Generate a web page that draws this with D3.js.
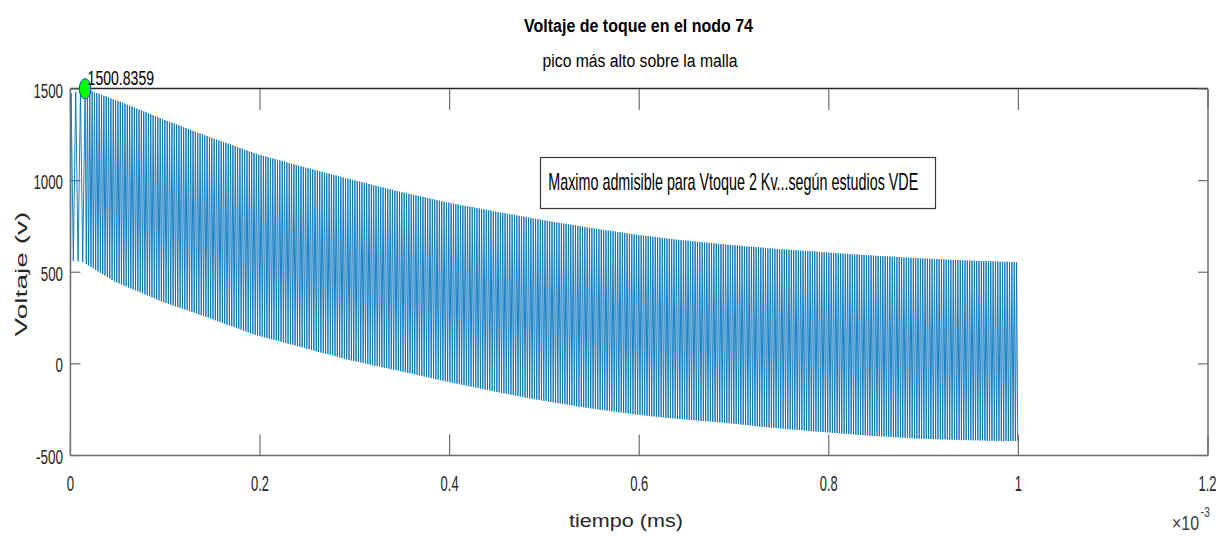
<!DOCTYPE html>
<html>
<head>
<meta charset="utf-8">
<script src="https://cdn.jsdelivr.net/npm/d3@7"></script>
<style>
  body { margin: 0; background: #fff; }
  svg { display: block; }
  text { font-family: "Liberation Sans", Arial, Helvetica, sans-serif; }
</style>
</head>
<body>
<svg id="chart" width="1221" height="538"></svg>
<script>
// ---- axis ticks (time in seconds, voltage in volts) ----
const xTicks = [0, 0.2e-3, 0.4e-3, 0.6e-3, 0.8e-3, 1.0e-3, 1.2e-3];
const xTickLabels = ["0", "0.2", "0.4", "0.6", "0.8", "1", "1.2"];
const yTicks = [-500, 0, 500, 1000, 1500];
const yTickLabels = ["-500", "0", "500", "1000", "1500"];

// ---- onset of the transient (t in ms, V) ----
const onsetTimesMs = [0, 0.0007, 0.0031, 0.0056, 0.0081, 0.0106, 0.0130];
const onsetValues  = [0, 1478, 562, 1484, 560, 1490, 556];

// ---- oscillation: one crest and one trough per cycle ----
const firstPeakMs = 0.0155;
const cyclePeriodMs = 0.002475;

const peakValues = [
  1500.8359,1496,1491,1487,1482,1478,1473,1468,1463,1459,1454,1449,1444,1440,1435,1430,
  1425,1420,1414,1409,1404,1399,1393,1388,1383,1378,1373,1368,1362,1357,1352,1347,1341,1336,1331,1326,
  1321,1316,1311,1307,1302,1297,1292,1287,1282,1277,1272,1267,1262,1258,1253,1248,1243,1238,1233,1229,
  1224,1220,1215,1211,1206,1202,1197,1193,1188,1183,1178,1174,1169,1165,1160,1156,1151,1147,1142,1139,
  1135,1132,1128,1125,1121,1118,1114,1111,1107,1103,1099,1096,1092,1089,1085,1082,1078,1075,1071,1068,
  1064,1061,1058,1055,1051,1048,1044,1041,1038,1035,1031,1028,1024,1021,1017,1014,1011,1008,1004,1001,
  998,995,991,988,985,982,978,975,972,969,966,963,959,956,953,950,946,943,940,937,
  934,931,928,926,923,920,917,914,911,908,905,902,899,897,894,891,888,885,882,880,
  877,875,872,870,867,865,862,860,858,856,853,851,848,846,843,841,838,836,833,831,
  828,826,824,822,819,817,815,813,810,808,805,803,801,799,796,794,792,790,787,785,
  783,781,779,777,774,772,770,768,766,764,762,760,758,756,753,751,749,747,745,743,
  741,739,737,735,733,731,729,728,726,724,722,720,718,716,714,712,710,708,706,705,
  703,702,700,699,697,696,694,693,691,689,687,686,684,683,681,680,678,677,675,674,
  673,672,670,669,668,667,665,664,663,662,660,659,658,657,655,654,653,652,650,649,
  648,647,646,645,643,642,641,640,639,638,637,636,635,634,632,631,630,629,628,627,
  626,625,624,624,623,622,621,620,619,618,617,616,615,615,614,613,612,611,610,609,
  608,607,606,606,605,604,603,602,601,600,599,598,597,597,596,595,594,593,592,592,
  591,590,589,589,588,587,586,586,585,584,583,583,582,581,580,580,579,578,577,577,
  576,576,575,574,573,573,572,572,571,571,570,570,569,568,567,567,566,566,565,565,
  564,564,563,563,562,562,561,561,561,561,560,560,559,559,558,558,557,557,556,556,
  555,555
];

const troughValues = [
  545,537,529,521,513,505,497,490,482,474,466,458,450,445,
  439,434,428,423,417,412,406,401,396,391,385,380,374,369,363,358,352,347,341,337,
  332,328,323,319,314,310,305,301,297,293,288,284,279,275,270,266,261,257,252,248,
  243,238,233,229,224,219,214,210,205,201,196,191,186,182,177,172,167,163,158,155,
  151,148,144,141,138,135,131,128,124,121,117,114,110,107,104,101,97,94,90,87,
  83,80,76,73,69,66,62,59,56,53,49,46,42,39,35,32,28,25,21,19,
  16,13,10,8,5,2,-1,-4,-7,-10,-12,-15,-18,-21,-23,-26,-29,-32,-34,-37,
  -40,-43,-46,-49,-51,-54,-57,-60,-63,-66,-69,-72,-75,-78,-80,-83,-86,-89,-92,-95,
  -97,-100,-103,-106,-108,-111,-113,-116,-119,-122,-124,-127,-129,-132,-134,-137,-140,-143,-145,-148,
  -150,-153,-155,-158,-160,-163,-165,-168,-170,-173,-175,-178,-180,-183,-185,-188,-190,-193,-195,-197,
  -199,-201,-203,-206,-208,-210,-212,-214,-216,-218,-220,-222,-224,-227,-229,-231,-233,-235,-237,-239,
  -241,-243,-244,-246,-248,-250,-251,-253,-255,-257,-259,-261,-262,-264,-266,-268,-269,-271,-273,-275,
  -276,-277,-278,-280,-281,-283,-284,-286,-287,-288,-289,-291,-292,-294,-295,-296,-297,-299,-300,-301,
  -302,-303,-304,-305,-306,-307,-308,-310,-311,-312,-313,-314,-315,-316,-317,-318,-319,-320,-321,-323,
  -324,-325,-326,-328,-329,-331,-332,-334,-335,-336,-337,-339,-340,-342,-343,-344,-345,-347,-348,-349,
  -350,-351,-352,-354,-355,-356,-357,-358,-359,-360,-361,-362,-363,-365,-366,-367,-368,-369,-370,-371,
  -372,-373,-374,-375,-376,-377,-378,-379,-380,-381,-382,-383,-384,-385,-386,-387,-388,-389,-390,-391,
  -392,-393,-393,-394,-395,-396,-396,-397,-398,-399,-400,-401,-401,-402,-403,-404,-404,-405,-406,-407,
  -407,-408,-408,-409,-409,-410,-410,-411,-411,-411,-411,-412,-412,-413,-413,-414,-414,-415,-415,-416,
  -416,-416,-416,-417,-417,-417,-417,-418,-418,-419,-419,-419,-419,-420,-420,-420,-420,-421,-421,-421,
  -421,-421,-421,-421
];

// ---- assemble the trace ----
const trace = [];
onsetTimesMs.forEach((t, i) => trace.push([t * 1e-3, onsetValues[i]]));
peakValues.forEach((v, k) => {
  trace.push([(firstPeakMs + k * cyclePeriodMs) * 1e-3, v]);
  trace.push([(firstPeakMs + (k + 0.5) * cyclePeriodMs) * 1e-3, troughValues[k]]);
});

// highest crest on the grid
const peakIndex = d3.maxIndex(peakValues);
const peakPoint = [(firstPeakMs + peakIndex * cyclePeriodMs) * 1e-3, peakValues[peakIndex]];

// ---- layout ----
const svg = d3.select("#chart");
const plotL = 70.4, plotR = 1208, plotT = 89, plotB = 455.5;
const x = d3.scaleLinear().domain([0, 1.2e-3]).range([plotL, plotR]);
const y = d3.scaleLinear().domain([-500, 1500]).range([plotB, plotT]);

// text placed at (px, py), horizontally scaled so it spans `len` pixels
function txt(parent, s, px, py, size, len, opts = {}) {
  const t = parent.append("text")
    .attr("x", 0).attr("y", 0)
    .attr("font-size", size)
    .attr("fill", opts.fill || "#262626")
    .attr("text-anchor", opts.anchor || "start")
    .text(s);
  if (opts.weight) t.attr("font-weight", opts.weight);
  const natural = t.node().getComputedTextLength() || len;
  const sx = len / natural;
  const rot = opts.rotate ? ` rotate(${opts.rotate})` : "";
  t.attr("transform", `translate(${px},${py})${rot} scale(${sx},1)`);
  return t;
}

// plot area clip
svg.append("clipPath").attr("id", "plotClip")
  .append("rect").attr("x", plotL).attr("y", plotT - 1).attr("width", plotR - plotL).attr("height", plotB - plotT + 2);

// signal
const line = d3.line().x(d => x(d[0])).y(d => y(d[1]));
svg.append("path")
  .datum(trace)
  .attr("clip-path", "url(#plotClip)")
  .attr("fill", "none")
  .attr("stroke", "#0072BD")
  .attr("stroke-width", 0.9)
  .attr("stroke-linejoin", "miter")
  .attr("d", line);

// axes box
const axisColor = "#6e6e6e";
const box = svg.append("g");
box.append("line").attr("x1", plotL).attr("x2", plotR).attr("y1", plotB).attr("y2", plotB)
  .attr("stroke", axisColor).attr("stroke-width", 1.5);
box.append("line").attr("x1", plotL).attr("x2", plotL).attr("y1", plotT).attr("y2", plotB)
  .attr("stroke", axisColor).attr("stroke-width", 1.5);
box.append("line").attr("x1", plotR).attr("x2", plotR).attr("y1", plotT).attr("y2", plotB)
  .attr("stroke", axisColor).attr("stroke-width", 1.5);
box.append("line").attr("x1", plotL).attr("x2", plotR).attr("y1", plotT - 0.5).attr("y2", plotT - 0.5)
  .attr("stroke", "#262626").attr("stroke-width", 1.5);

// ticks, inward on all four sides
const tickG = svg.append("g").attr("stroke", axisColor).attr("stroke-width", 1.2);
xTicks.forEach(t => {
  tickG.append("line").attr("x1", x(t)).attr("x2", x(t)).attr("y1", plotB).attr("y2", plotB - 21);
  tickG.append("line").attr("x1", x(t)).attr("x2", x(t)).attr("y1", plotT).attr("y2", plotT + 21);
});
yTicks.forEach(v => {
  tickG.append("line").attr("x1", plotL).attr("x2", plotL + 10).attr("y1", y(v)).attr("y2", y(v));
  tickG.append("line").attr("x1", plotR).attr("x2", plotR - 10).attr("y1", y(v)).attr("y2", y(v));
});

// tick labels
const labelG = svg.append("g");
xTicks.forEach((t, i) => {
  const s = xTickLabels[i];
  const len = s.split("").reduce((a, c) => a + (c === "." ? 3.4 : 7.3), 0);
  txt(labelG, s, Math.min(x(t), 1207.5), 491, 22, len, { anchor: "middle" });
});
yTicks.forEach((v, i) => {
  const s = yTickLabels[i];
  const len = s.split("").reduce((a, c) => a + (c === "-" ? 4.8 : 7.4), 0);
  txt(labelG, s, 63, y(v) + 8.5, 21, len, { anchor: "end" });
});

// exponent of the time axis
txt(svg, "\u00d710", 1172, 530, 20, 27, { fill: "#404040" });
txt(svg, "-3", 1200.5, 517, 14, 9.5, { fill: "#404040" });

// axis titles
txt(svg, "tiempo (ms)", 626, 527, 19, 114, { anchor: "middle" });
txt(svg, "Voltaje (v)", 27, 274, 17, 125, { anchor: "middle", rotate: -90 });

// titles
txt(svg, "Voltaje de toque en el nodo 74", 638.5, 32, 18.5, 229, { anchor: "middle", weight: "bold", fill: "#000" });
txt(svg, "pico más alto sobre la malla", 640, 66.5, 19, 195, { anchor: "middle", fill: "#000" });

// annotation box
const note = svg.append("g");
note.append("rect").attr("x", 540.5).attr("y", 157.5).attr("width", 395).attr("height", 51)
  .attr("fill", "#fff").attr("stroke", "#3a3a3a").attr("stroke-width", 1.2);
txt(note, "Maximo admisible para Vtoque 2 Kv...según estudios VDE", 548.3, 190, 23, 370, { fill: "#000" });

// highest peak marker with its value
svg.append("ellipse")
  .attr("cx", x(peakPoint[0])).attr("cy", y(peakPoint[1]))
  .attr("rx", 5.8).attr("ry", 10.2)
  .attr("fill", "#00ff00").attr("stroke", "#1f3bff").attr("stroke-width", 1);
txt(svg, peakPoint[1].toFixed(4), x(peakPoint[0]) + 2.5, y(peakPoint[1]) - 4, 21, 66.5, { fill: "#000" });
</script>
</body>
</html>
